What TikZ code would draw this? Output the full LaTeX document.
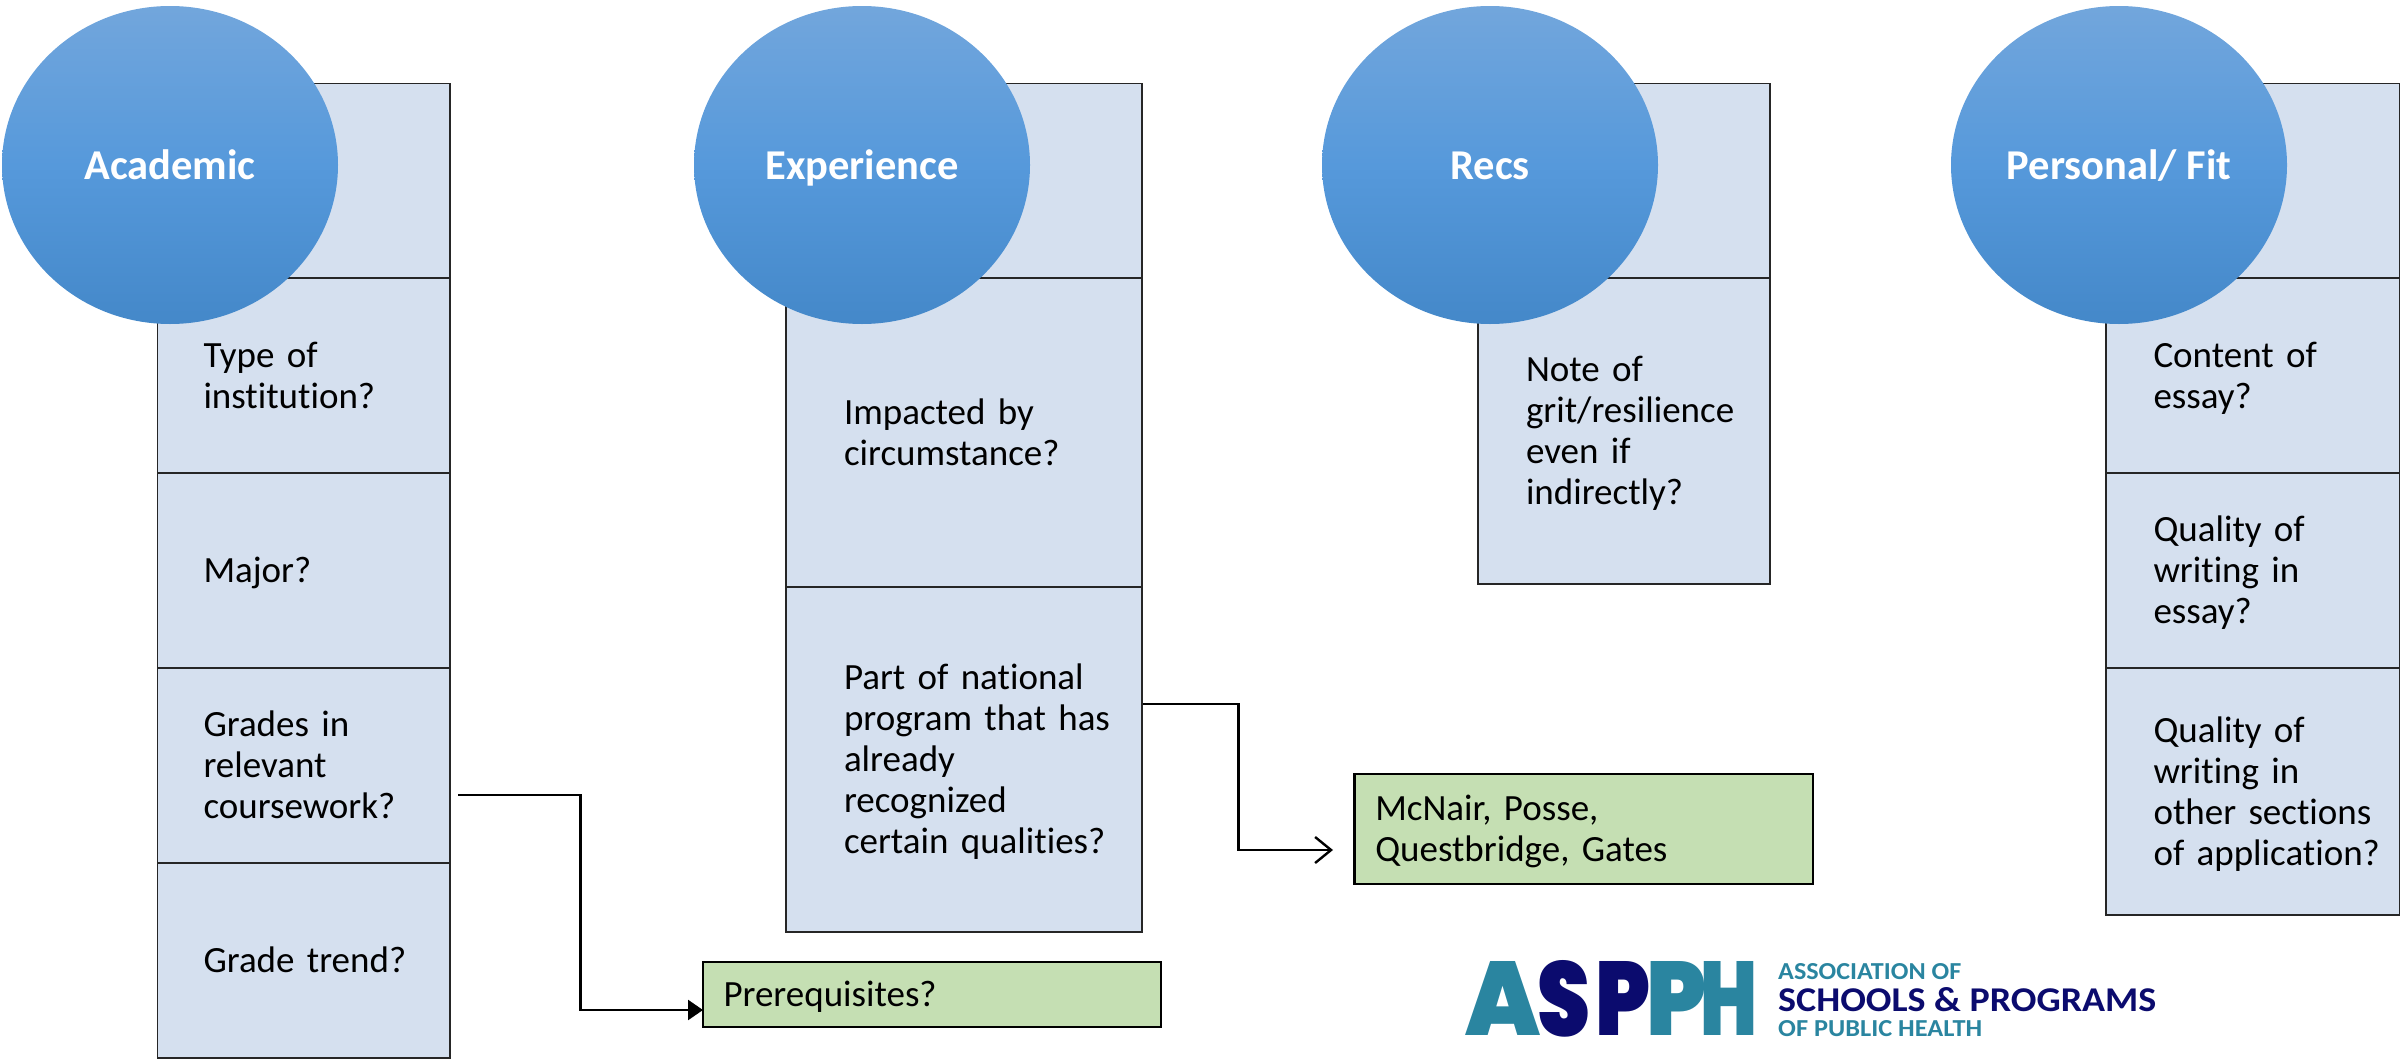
\documentclass[tikz,border=0pt]{standalone}
\usepackage{fontspec}
\setmainfont{Carlito}[Ligatures=NoCommon]
\newfontfamily\logofont{Poppins Black}
\usetikzlibrary{arrows.meta,shapes.geometric}
\definecolor{cellblue}{HTML}{D5E0EF}
\definecolor{cellgreen}{HTML}{C5DFB3}
\definecolor{logoteal}{HTML}{2A85A0}
\definecolor{logonavy}{HTML}{0B0B6E}
\definecolor{ctop}{HTML}{72A6DC}
\definecolor{cmid}{HTML}{5699DB}
\definecolor{cbot}{HTML}{4488C9}
\newcommand\lines[2]{\hspace*{#1}\begin{tabular}[c]{@{}l@{}}\rule{0pt}{36.7pt}#2\end{tabular}}
\tikzset{
  cell/.style={draw=black!85,line width=1.3pt,fill=cellblue,anchor=north west,outer sep=0pt,inner sep=0pt,
    align=left,font=\fontsize{37}{41}\selectfont},
  colone/.style={cell,text width=292.5pt},
  coltwo/.style={cell,text width=356pt},
  colthree/.style={cell,text width=292pt},
  colfour/.style={cell,text width=293.5pt},
  disc/.style={ellipse,minimum width=336pt,minimum height=318pt,inner sep=0pt,
    top color=ctop,bottom color=cbot,middle color=cmid,draw=none,text=white,
    text height=31pt,text depth=3pt,
    font=\fontsize{42.5}{50}\selectfont\bfseries},
  note/.style={draw=black,line width=2.6pt,fill=cellgreen,anchor=north west,outer sep=0pt,inner ysep=0pt,
    align=left,font=\fontsize{37}{41}\selectfont},
  link/.style={draw=black,line width=2.4pt},
  logomark/.style={inner sep=0pt,anchor=south west,font=\logofont},
  logotext/.style={inner sep=0pt,anchor=north west,font=\bfseries}
}
\begin{document}
\begin{tikzpicture}[x=1pt,y=-1pt]
\useasboundingbox (0,0) rectangle (2407,1060);
% Academic column
\node[colone,minimum height=194.5pt] (a0) at (157.5,83.5) {};
\node[colone,minimum height=195pt] (a1) at (157.5,278) {\lines{46pt}{Type of\\institution?}};
\node[colone,minimum height=195pt] (a2) at (157.5,473) {\lines{46pt}{Major?}};
\node[colone,minimum height=195pt] (a3) at (157.5,668) {\lines{46pt}{Grades in\\relevant\\coursework?}};
\node[colone,minimum height=195pt] (a4) at (157.5,863) {\lines{46pt}{Grade trend?}};
% Experience column
\node[coltwo,minimum height=194.5pt] (e0) at (786,83.5) {};
\node[coltwo,minimum height=309pt] (e1) at (786,278) {\lines{58pt}{Impacted by\\circumstance?}};
\node[coltwo,minimum height=345pt] (e2) at (786,587) {\lines{58pt}{Part of national\\program that has\\already\\recognized\\certain qualities?}};
% Recs column
\node[colthree,minimum height=194.5pt] (r0) at (1478,83.5) {};
\node[colthree,minimum height=306pt] (r1) at (1478,278) {\lines{48pt}{Note of\\grit/resilience\\even if\\indirectly?}};
% Personal column
\node[colfour,minimum height=194.5pt] (p0) at (2106,83.5) {};
\node[colfour,minimum height=195pt] (p1) at (2106,278) {\lines{47.5pt}{Content of\\essay?}};
\node[colfour,minimum height=195pt] (p2) at (2106,473) {\lines{47.5pt}{Quality of\\writing in\\essay?}};
\node[colfour,minimum height=247pt] (p3) at (2106,668) {\lines{47.5pt}{Quality of\\writing in\\other sections\\of application?}};
% Circles
\node[disc] (ca) at (170,165) {Academic};
\node[disc] (ce) at (862,165) {Experience};
\node[disc] (cr) at (1490,165) {Recs};
\node[disc] (cp) at (2119,165) {Personal/ Fit};
% Green notes
\node[note,text width=417pt,inner xsep=20pt,minimum width=458pt,minimum height=65pt] (prereq) at (703,962) {\lines{0pt}{Prerequisites?}};
\node[note,text width=417pt,inner xsep=20.5pt,minimum width=458.5pt,minimum height=110pt] (mcnair) at (1354.5,774) {\lines{0pt}{McNair, Posse,\\Questbridge, Gates}};
% Connectors
\coordinate (s1) at (458,795);
\coordinate (t1) at (703,1010);
\coordinate (s2) at (1143,704);
\coordinate (t2) at (1333,850);
\draw[link,-{Triangle[length=15pt,width=20pt]}] (s1) -- (580.5,795) -- (580.5,1010) -- (t1);
\draw[link,-{Straight Barb[length=16pt,width=26pt,line width=2.4pt]}] (s2) -- (1238.5,704) -- (1238.5,850) -- (t2);
% Logo
\node[logomark,text=logoteal] (lA) at (1465,1036) {\resizebox{75pt}{74pt}{A}};
\node[logomark,text=logoteal] (lP2) at (1646,1036) {\resizebox{60pt}{74pt}{P}};
\node[logomark,text=logoteal] (lH) at (1700,1036) {\resizebox{57pt}{74pt}{H}};
\node[logomark,text=logonavy] (lS) at (1537,1037) {\resizebox{53pt}{76pt}{S}};
\node[logomark,text=logonavy] (lP1) at (1595,1036) {\resizebox{55pt}{74pt}{P}};
\node[logotext,text=logoteal] (l1) at (1778,963) {\resizebox{183pt}{16pt}{ASSOCIATION OF}};
\node[logotext,text=logonavy] (l2) at (1778,987) {\resizebox{378pt}{24pt}{SCHOOLS \& PROGRAMS}};
\node[logotext,text=logoteal] (l3) at (1778,1020) {\resizebox{204pt}{16pt}{OF PUBLIC HEALTH}};
\end{tikzpicture}
\end{document}
